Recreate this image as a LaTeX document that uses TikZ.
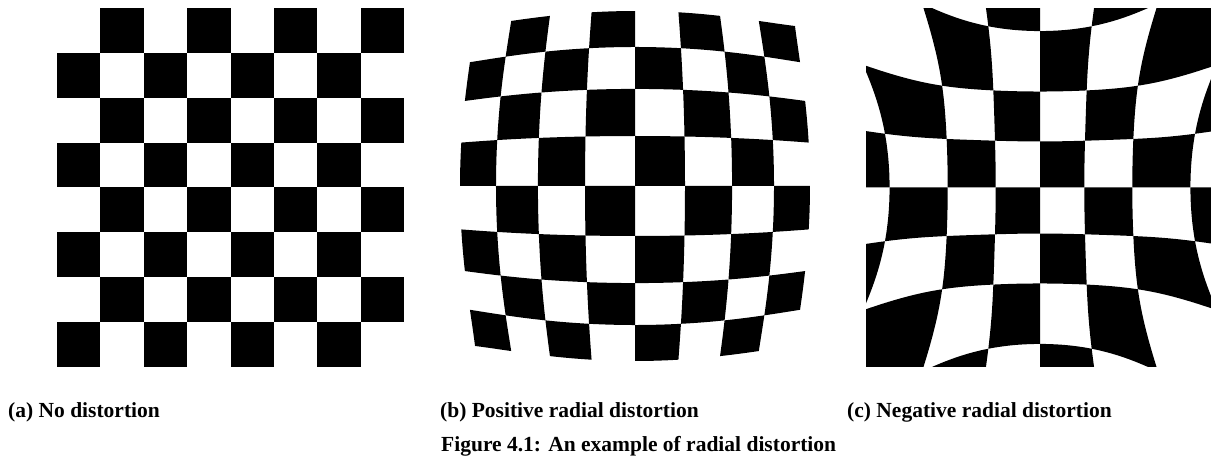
\documentclass[tikz,border=0pt]{standalone}
\usepackage{fontspec}
\setmainfont{Liberation Serif}
% barrel distortion (b)
\pgfmathdeclarefunction{fb}{1}{\pgfmathparse{50.51-0.5167*(#1)+0.00588*(#1)*(#1)}}
\pgfmathdeclarefunction{bx}{2}{\pgfmathparse{635+(#1)*fb((#1)*(#1)+(#2)*(#2))}}
\pgfmathdeclarefunction{by}{2}{\pgfmathparse{186-(#2)*fb((#1)*(#1)+(#2)*(#2))}}
% pincushion distortion (c)
\pgfmathdeclarefunction{fc}{1}{\pgfmathparse{43.32+1.0694*(#1)-0.1361*(#1)*(#1)+0.01128*(#1)*(#1)*(#1)}}
\pgfmathdeclarefunction{cx}{2}{\pgfmathparse{1040+(#1)*fc((#1)*(#1)+(#2)*(#2))}}
\pgfmathdeclarefunction{cy}{2}{\pgfmathparse{187.5-1.04*(#2)*fc((#1)*(#1)+(#2)*(#2))}}
\newcommand{\cellfill}[4]{%
  \fill[cellcol] ({#1(#3,#4)},{#2(#3,#4)})
    \foreach \k in {1,...,16} { -- ({#1(#3+\k/16,#4)},{#2(#3+\k/16,#4)}) }
    \foreach \k in {1,...,16} { -- ({#1(#3+1,#4+\k/16)},{#2(#3+1,#4+\k/16)}) }
    \foreach \k in {1,...,16} { -- ({#1(#3+1-\k/16,#4+1)},{#2(#3+1-\k/16,#4+1)}) }
    \foreach \k in {1,...,16} { -- ({#1(#3,#4+1-\k/16)},{#2(#3,#4+1-\k/16)}) }
    -- cycle;}
\begin{document}
\begin{tikzpicture}[x=1pt,y=-1pt,
  cellcol/.style={fill=black},
  captext/.style={inner sep=0pt,font=\fontsize{21.5}{26}\selectfont\bfseries}]
\useasboundingbox (0,0) rectangle (1211,465);
\fill[white] (0,0) rectangle (1211,465);
% (a) no distortion
\foreach \ci in {0,...,7}{\foreach \ri in {0,...,7}{%
  \ifodd\numexpr\ci+\ri\relax
    \fill[cellcol] ({57+43.375*\ci},{8+44.875*\ri}) rectangle ({57+43.375*(\ci+1)},{8+44.875*(\ri+1)});
  \fi}}
% (b) positive radial distortion
\begin{scope}
\clip (460,8.3) rectangle (812,366);
\foreach \i in {-4,...,3}{\foreach \j in {-4,...,3}{%
  \ifodd\numexpr\i+\j\relax\else\cellfill{bx}{by}{\i}{\j}\fi}}
\end{scope}
% (c) negative radial distortion
\begin{scope}
\clip (866,8.3) rectangle (1211,366.7);
\foreach \i in {-4,...,3}{\foreach \j in {-4,...,3}{%
  \ifodd\numexpr\i+\j\relax\else\cellfill{cx}{cy}{\i}{\j}\fi}}
\end{scope}
% captions
\node[captext,anchor=base west] (capa) at (8,417) {(a) No distortion};
\node[captext,anchor=base west] (capb) at (440,417) {(b) Positive radial distortion};
\node[captext,anchor=base west] (capc) at (847,417) {(c) Negative radial distortion};
\node[captext,anchor=base west] (fig) at (441,451) {Figure 4.1: An example of radial distortion};
\end{tikzpicture}
\end{document}
